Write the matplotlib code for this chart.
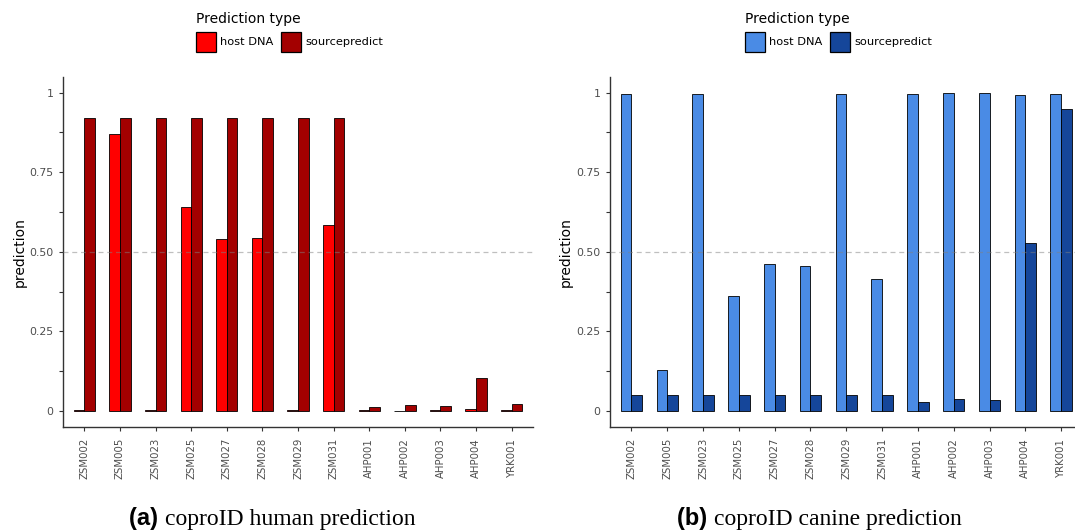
import matplotlib
matplotlib.use("Agg")
import matplotlib.pyplot as plt
import numpy as np
from matplotlib.ticker import FixedLocator
from matplotlib.patches import Patch

samples = ["ZSM002", "ZSM005", "ZSM023", "ZSM025", "ZSM027", "ZSM028", "ZSM029",
           "ZSM031", "AHP001", "AHP002", "AHP003", "AHP004", "YRK001"]

human_host = [0.002, 0.870, 0.002, 0.640, 0.540, 0.545, 0.003, 0.585,
              0.002, 0.001, 0.002, 0.008, 0.003]
human_sp = [0.921, 0.921, 0.921, 0.921, 0.921, 0.921, 0.921, 0.921,
            0.014, 0.019, 0.017, 0.105, 0.023]

canine_host = [0.997, 0.128, 0.997, 0.362, 0.461, 0.456, 0.996, 0.414,
               0.997, 0.998, 0.998, 0.992, 0.997]
canine_sp = [0.049, 0.049, 0.049, 0.049, 0.049, 0.049, 0.049, 0.049,
             0.030, 0.039, 0.035, 0.527, 0.949]

series_labels = ["host DNA", "sourcepredict"]
human_colors = ["#FF0000", "#A30000"]
canine_colors = ["#4A8BE5", "#15469A"]
y_ticks = [0, 0.25, 0.5, 0.75, 1]
y_ticklabels = ["0", "0.25", "0.50", "0.75", "1"]

W, H = 1075, 531
fig = plt.figure(figsize=(W / 100, H / 100), dpi=100)

def px_axes(x0, x1, ytop, ybot):
    return fig.add_axes([x0 / W, 1 - ybot / H, (x1 - x0) / W, (ybot - ytop) / H])

ax1 = px_axes(63, 533, 76.7, 427)
ax2 = px_axes(610, 1082.6, 76.7, 427)

grey_txt = "#4D4D4D"
spine_col = "#333333"

def draw(ax, host, sp, colors, legend_x, caption_bold, caption_rest, cap_cx):
    x = np.arange(len(samples))
    w = 0.3
    ax.bar(x - w / 2, host, width=w, color=colors[0], edgecolor="black", linewidth=0.6, zorder=2)
    ax.bar(x + w / 2, sp, width=w, color=colors[1], edgecolor="black", linewidth=0.6, zorder=2)
    ax.axhline(0.5, color="#808080", alpha=0.5, linestyle=(0, (4, 3)), linewidth=0.9, zorder=3)
    ax.set_xlim(-0.6, len(samples) - 1 + 0.6)
    ax.set_ylim(-0.05, 1.05)
    ax.set_xticks(x)
    ax.set_xticklabels(samples, rotation=90, fontsize=7.3, color=grey_txt)
    ax.set_yticks(y_ticks)
    ax.set_yticklabels(y_ticklabels, fontsize=7.8, color=grey_txt)
    ax.yaxis.set_minor_locator(FixedLocator([0.125, 0.375, 0.625, 0.875]))
    ax.tick_params(axis="both", which="major", length=3, width=0.8, color=spine_col, pad=4)
    ax.tick_params(axis="x", which="major", pad=5)
    ax.tick_params(axis="y", which="minor", length=3, width=0.8, color=spine_col)
    for s in ["top", "right"]:
        ax.spines[s].set_visible(False)
    for s in ["left", "bottom"]:
        ax.spines[s].set_color(spine_col)
        ax.spines[s].set_linewidth(1.0)
    ax.set_ylabel("prediction", fontsize=10, labelpad=2)
    handles = [Patch(facecolor=colors[0], edgecolor="black", linewidth=0.9),
               Patch(facecolor=colors[1], edgecolor="black", linewidth=0.9)]
    fig.legend(handles, series_labels, title="Prediction type", ncol=2,
               loc="upper left", bbox_to_anchor=(legend_x / W, 1 - 12 / H),
               frameon=False, fontsize=8.2, title_fontsize=10,
               handlelength=1.75, handleheight=2.3, handletextpad=0.4,
               columnspacing=0.65, borderpad=0, borderaxespad=0,
               alignment="left")
    # caption
    t1 = fig.text(0, 0, caption_bold, fontsize=17, fontweight="bold",
                  family="Liberation Sans", va="baseline")
    t2 = fig.text(0, 0, caption_rest, fontsize=17, family="Liberation Serif", va="baseline")
    fig.canvas.draw()
    r = fig.canvas.get_renderer()
    w1 = t1.get_window_extent(r).width
    w2 = t2.get_window_extent(r).width
    total = w1 + w2
    x0 = cap_cx - total / 2
    base_y = 1 - 525 / H
    t1.set_position((x0 / W, base_y))
    t2.set_position(((x0 + w1) / W, base_y))

draw(ax1, human_host, human_sp, human_colors, 196, "(a) ", "coproID human prediction", 272)
draw(ax2, canine_host, canine_sp, canine_colors, 745, "(b) ", "coproID canine prediction", 819)

fig.savefig("out.png", dpi=100)
